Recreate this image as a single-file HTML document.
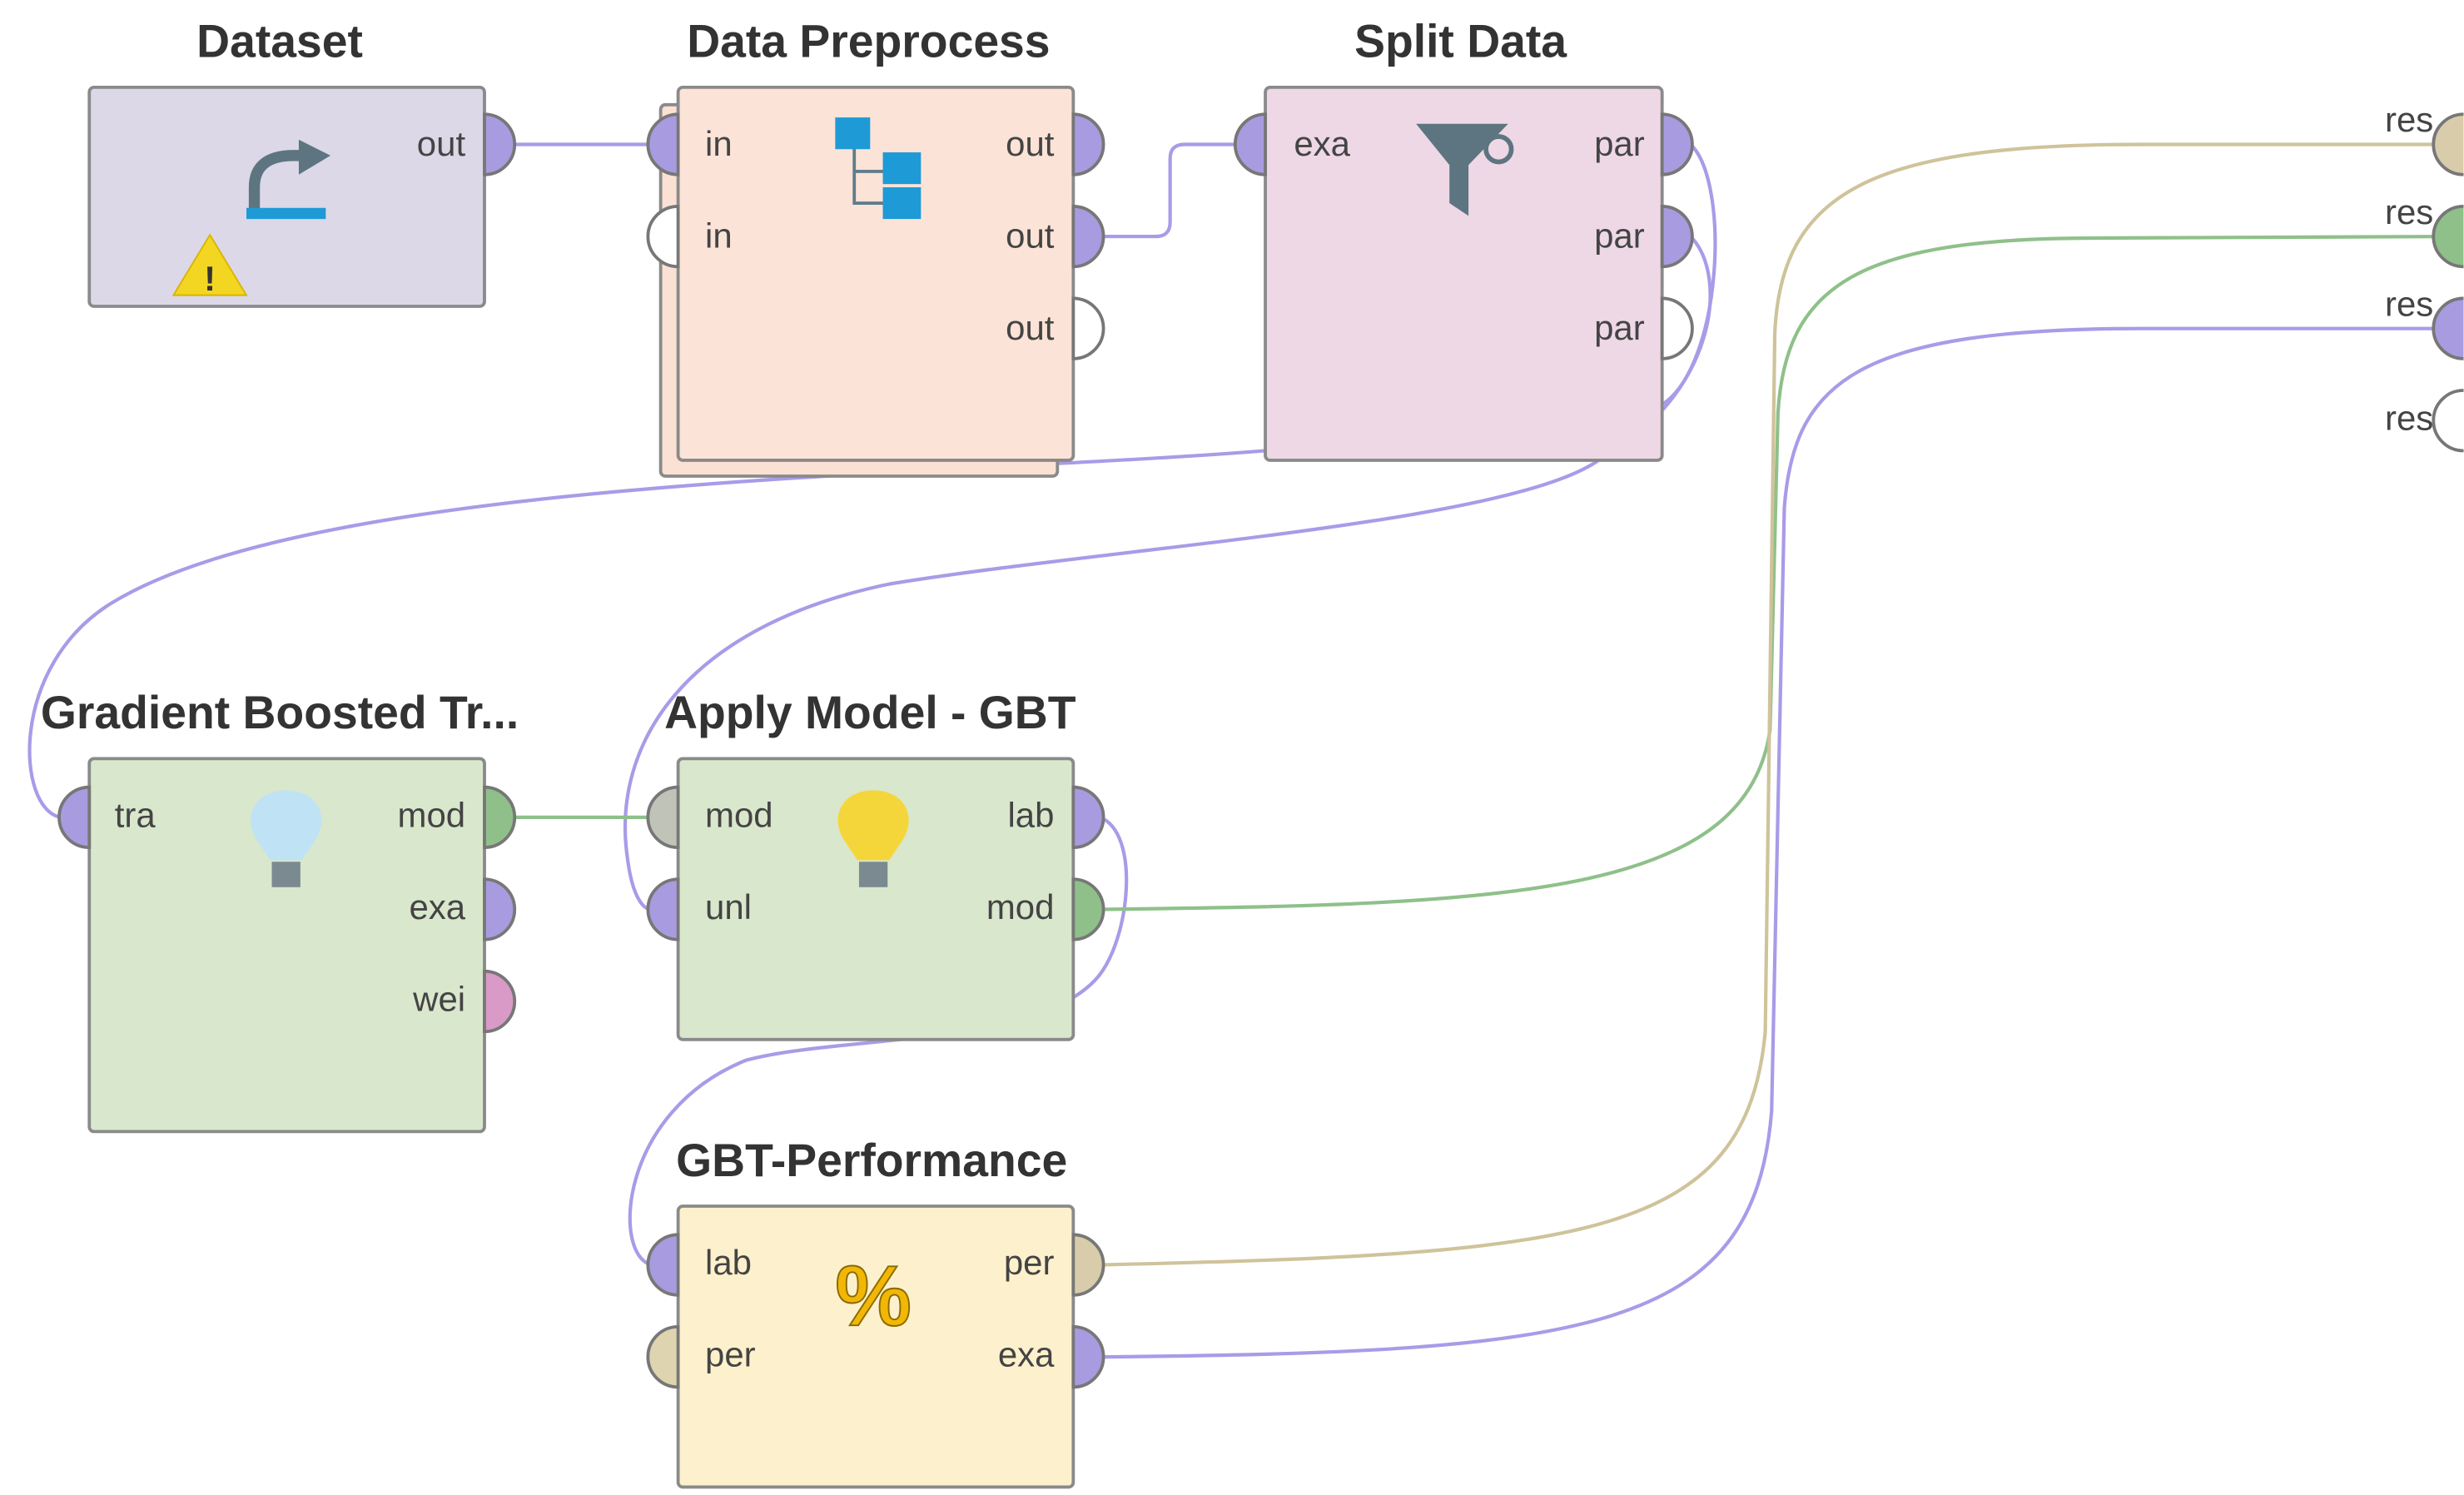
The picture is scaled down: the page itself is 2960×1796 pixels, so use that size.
<!DOCTYPE html>
<html><head><meta charset="utf-8"><style>
html,body{margin:0;padding:0;background:#fff;width:2960px;height:1796px;overflow:hidden}
svg{display:block}
.t{font-family:"Liberation Sans",sans-serif;font-weight:bold;font-size:29px;fill:#333;text-anchor:middle}
.l{font-family:"Liberation Sans",sans-serif;font-size:22px;fill:#444}
.r{text-anchor:end}
.box{stroke:#8a8a8a;stroke-width:2}
.p{stroke:#777;stroke-width:2}
.c{fill:none;stroke-width:2.2}
</style></head><body>
<svg width="2960" height="1796" viewBox="0 0 1552 942" xmlns="http://www.w3.org/2000/svg">
<g class="c">
<path d="M322,91 L410,91" stroke="#a99be8"/>
<path d="M693,149 L728,149 Q737,149 737,140 L737,100 Q737,91 746,91 L779,91" stroke="#a99be8"/>
<path d="M1065,91 C1090,115 1085,230 1047,255 L797,284 C600,300 200,300 70,380 C5,420 10,510 38,515" stroke="#a99be8"/>
<path d="M1065,149 C1090,175 1080,250 1007,290 C950,330 700,345 560,368 C430,395 385,470 395,540 C398,565 405,573 410,573" stroke="#a99be8"/>
<path d="M322,515 L410,515" stroke="#8fc08a"/>
<path d="M693,515 C718,525 712,590 692,615 C655,660 530,652 470,668 C390,700 385,790 410,797" stroke="#a99be8"/>
<path d="M693,573 C950,570 1100,565 1115,460 L1120,260 C1125,180 1170,150 1320,150 L1545,149" stroke="#8fc08a"/>
<path d="M693,797 C1000,790 1100,780 1112,650 L1118,210 C1122,120 1180,91 1350,91 L1545,91" stroke="#cfc39a"/>
<path d="M693,855 C1000,852 1105,840 1116,700 L1124,320 C1130,240 1170,207 1350,207 L1545,207" stroke="#a99be8"/>
</g>

<text class="t" x="176" y="36">Dataset</text>
<rect class="box" x="56" y="55" width="249" height="138" rx="3" fill="#dcd8e8"/>
<path class="p" d="M305,72 A19,19 0 0 1 305,110 Z" fill="#a99be0"/>
<text class="l r" x="293" y="98">out</text>
<path d="M160,132 L160,118 Q160,98 185,98 L190,98" fill="none" stroke="#5d7580" stroke-width="7"/>
<path d="M188,88 L208,98 L188,110 Z" fill="#5d7580"/>
<rect x="155" y="131" width="50" height="7" fill="#1e9ad6"/>
<path d="M132,148 L155,186 L109,186 Z" fill="#f3d622" stroke="#d8b500" stroke-width="1"/>
<text x="132" y="183" font-family="Liberation Sans" font-weight="bold" font-size="22" text-anchor="middle" fill="#333">!</text>

<text class="t" x="547" y="36">Data Preprocess</text>
<rect class="box" x="416" y="66" width="250" height="234" rx="3" fill="#fbe1d4"/>
<rect class="box" x="427" y="55" width="249" height="235" rx="3" fill="#fce3d7"/>
<path class="p" d="M427,72 A19,19 0 0 0 427,110 Z" fill="#a99be0"/>
<path class="p" d="M427,130 A19,19 0 0 0 427,168 Z" fill="#fff"/>
<path class="p" d="M676,72 A19,19 0 0 1 676,110 Z" fill="#a99be0"/>
<path class="p" d="M676,130 A19,19 0 0 1 676,168 Z" fill="#a99be0"/>
<path class="p" d="M676,188 A19,19 0 0 1 676,226 Z" fill="#fff"/>
<text class="l" x="444" y="98">in</text><text class="l" x="444" y="156">in</text>
<text class="l r" x="664" y="98">out</text><text class="l r" x="664" y="156">out</text><text class="l r" x="664" y="214">out</text>
<path d="M538,92 L538,128 L558,128 M538,108 L558,108" fill="none" stroke="#607d8b" stroke-width="2"/>
<rect x="526" y="74" width="22" height="20" fill="#1e9ad6"/>
<rect x="556" y="96" width="24" height="20" fill="#1e9ad6"/>
<rect x="556" y="118" width="24" height="20" fill="#1e9ad6"/>

<text class="t" x="920" y="36">Split Data</text>
<rect class="box" x="797" y="55" width="250" height="235" rx="3" fill="#eed8e6"/>
<path class="p" d="M797,72 A19,19 0 0 0 797,110 Z" fill="#a99be0"/>
<path class="p" d="M1047,72 A19,19 0 0 1 1047,110 Z" fill="#a99be0"/>
<path class="p" d="M1047,130 A19,19 0 0 1 1047,168 Z" fill="#a99be0"/>
<path class="p" d="M1047,188 A19,19 0 0 1 1047,226 Z" fill="#fff"/>
<text class="l" x="815" y="98">exa</text>
<text class="l r" x="1036" y="98">par</text><text class="l r" x="1036" y="156">par</text><text class="l r" x="1036" y="214">par</text>
<path d="M892,78 L950,78 L925,104 L925,136 L913,128 L913,104 Z" fill="#5d7580"/>
<circle cx="944" cy="94" r="8" fill="none" stroke="#5d7580" stroke-width="3"/>

<g>
<text class="l r" x="1533" y="83">res</text>
<text class="l r" x="1533" y="141">res</text>
<text class="l r" x="1533" y="199">res</text>
<text class="l r" x="1533" y="271">res</text>
<path class="p" d="M1552,72 A19,19 0 0 0 1552,110" fill="#d8ccaa"/>
<path class="p" d="M1552,130 A19,19 0 0 0 1552,168" fill="#8fc08a"/>
<path class="p" d="M1552,188 A19,19 0 0 0 1552,226" fill="#a99be0"/>
<path class="p" d="M1552,246 A19,19 0 0 0 1552,284" fill="#fff"/>
</g>

<text class="t" x="176" y="459">Gradient Boosted Tr...</text>
<rect class="box" x="56" y="478" width="249" height="235" rx="3" fill="#d9e7cc"/>
<path class="p" d="M56,496 A19,19 0 0 0 56,534 Z" fill="#a99be0"/>
<path class="p" d="M305,496 A19,19 0 0 1 305,534 Z" fill="#8fc08a"/>
<path class="p" d="M305,554 A19,19 0 0 1 305,592 Z" fill="#a99be0"/>
<path class="p" d="M305,612 A19,19 0 0 1 305,650 Z" fill="#d99ac8"/>
<text class="l" x="72" y="521">tra</text>
<text class="l r" x="293" y="521">mod</text><text class="l r" x="293" y="579">exa</text><text class="l r" x="293" y="637">wei</text>
<path d="M180,498 C160,498 152,515 162,530 L170,542 L190,542 L198,530 C208,515 200,498 180,498 Z" fill="#bfe3f5"/>
<rect x="171" y="543" width="18" height="16" fill="#7a8a90"/>

<text class="t" x="548" y="459">Apply Model - GBT</text>
<rect class="box" x="427" y="478" width="249" height="177" rx="3" fill="#d9e7cc"/>
<path class="p" d="M427,496 A19,19 0 0 0 427,534 Z" fill="#c0c4b8"/>
<path class="p" d="M427,554 A19,19 0 0 0 427,592 Z" fill="#a99be0"/>
<path class="p" d="M676,496 A19,19 0 0 1 676,534 Z" fill="#a99be0"/>
<path class="p" d="M676,554 A19,19 0 0 1 676,592 Z" fill="#8fc08a"/>
<text class="l" x="444" y="521">mod</text><text class="l" x="444" y="579">unl</text>
<text class="l r" x="664" y="521">lab</text><text class="l r" x="664" y="579">mod</text>
<path d="M550,498 C530,498 522,515 532,530 L540,542 L560,542 L568,530 C578,515 570,498 550,498 Z" fill="#f5d63a"/>
<rect x="541" y="543" width="18" height="16" fill="#7a8a90"/>

<text class="t" x="549" y="741">GBT-Performance</text>
<rect class="box" x="427" y="760" width="249" height="177" rx="3" fill="#fcf1cc"/>
<path class="p" d="M427,778 A19,19 0 0 0 427,816 Z" fill="#a99be0"/>
<path class="p" d="M427,836 A19,19 0 0 0 427,874 Z" fill="#ded4b0"/>
<path class="p" d="M676,778 A19,19 0 0 1 676,816 Z" fill="#d8ccaa"/>
<path class="p" d="M676,836 A19,19 0 0 1 676,874 Z" fill="#a99be0"/>
<text class="l" x="444" y="803">lab</text><text class="l" x="444" y="861">per</text>
<text class="l r" x="664" y="803">per</text><text class="l r" x="664" y="861">exa</text>
<text x="550" y="835" font-family="Liberation Sans" font-weight="bold" font-size="54" text-anchor="middle" fill="#f2b705" stroke="#8a6a00" stroke-width="1">%</text>
</svg>
</body></html>
